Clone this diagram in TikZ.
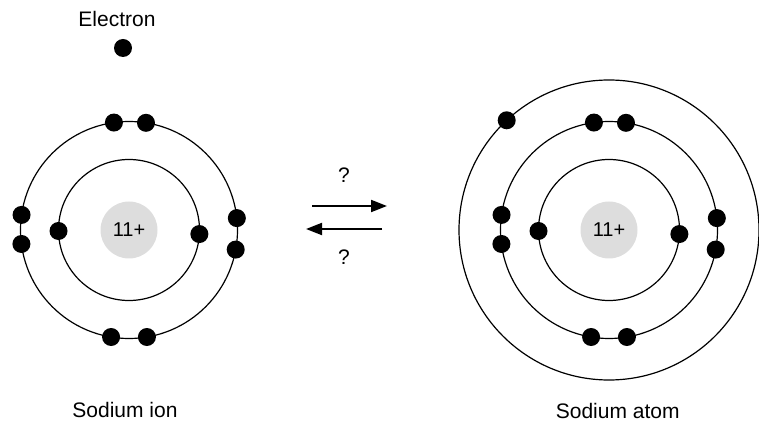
\documentclass[tikz,border=0pt]{standalone}
\usepackage{fontspec}
\setmainfont{Liberation Sans}
\usetikzlibrary{arrows.meta}
\definecolor{nucgray}{RGB}{221,221,221}
\begin{document}
\begin{tikzpicture}[x=1pt,y=1pt,
  orbit/.style={circle,draw=black,line width=1.2pt,inner sep=0pt,fill=none},
  electron/.style={circle,fill=black,inner sep=0pt,minimum size=18pt},
  nucleus/.style={circle,fill=nucgray,inner sep=0pt,minimum size=57pt,font=\fontsize{20}{24}\selectfont},
  lbl/.style={anchor=base,inner sep=0pt,font=\fontsize{21}{25}\selectfont},
  rx/.style={line width=2pt,-{Triangle[length=16pt,width=12pt]}}]
\useasboundingbox (0,0) rectangle (759,423);
% ---------- Sodium ion ----------
\node[orbit,minimum size=141pt] (inA) at (129,193) {};
\node[orbit,minimum size=217pt] (midA) at (129,193) {};
\node[nucleus] (nA) at (129,193) {11+};
\foreach \a/\r/\n in {98/108.5/a1,81/108.5/a2,260.5/108.5/a3,279.5/108.5/a4,172/108.5/a5,187.4/108.5/a6,6.3/108.5/a7,-10.4/108.5/a8,180.8/70.5/a9,-3.3/70.5/a10}
  \node[electron] (\n) at ([shift={(\a:\r pt)}]nA.center) {};
\node[electron] (free) at (123,375) {};
\node[lbl] (elbl) at (117,396.5) {Electron};
\node[lbl] (ionlbl) at (125,5.5) {Sodium ion};
% ---------- arrows ----------
\coordinate (f1) at (312,217);
\coordinate (f2) at (387,217);
\coordinate (b1) at (382,194);
\coordinate (b2) at (306,194);
\draw[rx] (f1) -- (f2);
\draw[rx] (b1) -- (b2);
\node[lbl] (q1) at (344,240) {?};
\node[lbl] (q2) at (344,158) {?};
% ---------- Sodium atom ----------
\node[orbit,minimum size=141pt] (inB) at (609,193) {};
\node[orbit,minimum size=217pt] (midB) at (609,193) {};
\node[orbit,minimum size=300pt] (outB) at (609,193) {};
\node[nucleus] (nB) at (609,193) {11+};
\foreach \a/\r/\n in {98/108.5/b1e,81/108.5/b2e,260.5/108.5/b3e,279.5/108.5/b4e,172/108.5/b5e,187.4/108.5/b6e,6.3/108.5/b7e,-10.4/108.5/b8e,180.8/70.5/b9e,-3.3/70.5/b10e,133/150/b11e}
  \node[electron] (\n) at ([shift={(\a:\r pt)}]nB.center) {};
\node[lbl] (atomlbl) at (617.7,5) {Sodium atom};
\end{tikzpicture}
\end{document}
